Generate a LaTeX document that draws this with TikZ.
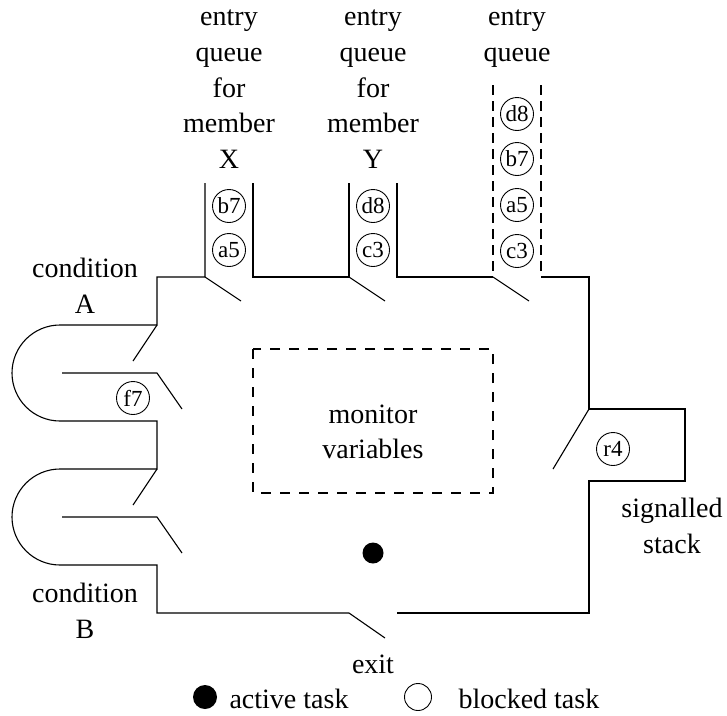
\documentclass[tikz,border=0pt]{standalone}
\usepackage{fontspec}
\setmainfont{Liberation Serif}
\begin{document}
\begin{tikzpicture}[x=1pt,y=-1pt,line width=1.1pt,line join=miter,
  task/.style={circle,draw,line width=0.9pt,minimum size=33pt,inner sep=0pt,
    font=\fontsize{23}{23}\selectfont},
  lbl/.style={anchor=base,inner sep=0pt,font=\fontsize{28}{34}\selectfont},
  leftlbl/.style={anchor=base west,inner sep=0pt,font=\fontsize{28}{34}\selectfont},
  qdash/.style={dash pattern=on 10pt off 6pt},
  boxdash/.style={dash pattern=on 10pt off 9pt}]
\useasboundingbox (0,0) rectangle (727,715);

% monitor outline with the two condition queues on the left
\draw (205,183) -- (205,277) -- (157,277) -- (157,325) -- (60,325)
  arc[start angle=90,end angle=270,radius=48pt] -- (157,421) -- (157,469) -- (60,469)
  arc[start angle=90,end angle=270,radius=48pt] -- (157,565) -- (157,613) -- (349,613);
\draw (253,183) -- (253,277) -- (349,277) -- (349,183);
\draw (397,183) -- (397,277) -- (493,277);
\draw[qdash] (493,85) -- (493,277);
\draw[qdash] (541,85) -- (541,277);
\draw (541,277) -- (589,277) -- (589,409) -- (685,409) -- (685,481) -- (589,481)
  -- (589,613) -- (397,613);

% gates
\draw (205,277) -- (241,301);
\draw (349,277) -- (385,301);
\draw (493,277) -- (529,301);
\draw (589,409) -- (553,469);
\draw (349,613) -- (385,638);
\draw (157,325) -- (133,361);
\draw (157,469) -- (133,505);
\draw (62,373) -- (157,373) -- (182,409);
\draw (62,517) -- (157,517) -- (182,553);

% monitor variables
\draw[boxdash] (253,349) rectangle (493,493);
\node[lbl] (mon1) at (373,423) {monitor};
\node[lbl] (mon2) at (373,458) {variables};

% blocked tasks
\node[task] (xb7) at (229,206) {b7};
\node[task] (xa5) at (229,250) {a5};
\node[task] (yd8) at (373,206) {d8};
\node[task] (yc3) at (373,250) {c3};
\node[task] (ed8) at (517,114) {d8};
\node[task] (eb7) at (517,159) {b7};
\node[task] (ea5) at (517,205) {a5};
\node[task] (ec3) at (517,251) {c3};
\node[task] (cf7) at (133,398) {f7};
\node[task] (sr4) at (613,449) {r4};

% active task
\fill (373,553) circle[radius=10.5pt];

% labels
\node[lbl] (x1) at (229,25) {entry};
\node[lbl] (x2) at (229,61) {queue};
\node[lbl] (x3) at (229,97) {for};
\node[lbl] (x4) at (229,132) {member};
\node[lbl] (x5) at (229,168) {X};
\node[lbl] (y1) at (373,25) {entry};
\node[lbl] (y2) at (373,61) {queue};
\node[lbl] (y3) at (373,97) {for};
\node[lbl] (y4) at (373,132) {member};
\node[lbl] (y5) at (373,168) {Y};
\node[lbl] (e1) at (517,25) {entry};
\node[lbl] (e2) at (517,61) {queue};
\node[lbl] (ca1) at (85,277) {condition};
\node[lbl] (ca2) at (85,313) {A};
\node[lbl] (cb1) at (85,602) {condition};
\node[lbl] (cb2) at (85,638) {B};
\node[lbl] (s1) at (672,517) {signalled};
\node[lbl] (s2) at (672,553) {stack};
\node[lbl] (ex) at (373,673) {exit};

% legend
\fill (205,697) circle[radius=12pt];
\node[leftlbl] (lact) at (229,708) {active task};
\draw[line width=0.9pt] (418,697) circle[radius=13.5pt];
\node[leftlbl] (lblk) at (458,708) {blocked task};
\end{tikzpicture}
\end{document}
